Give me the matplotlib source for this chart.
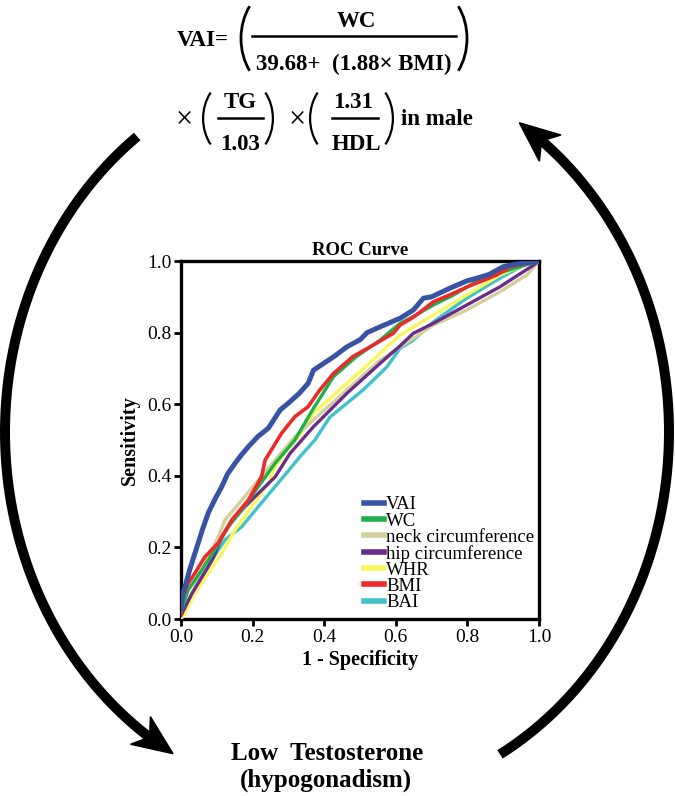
import numpy as np
import matplotlib
matplotlib.use("Agg")
import matplotlib.pyplot as plt
from matplotlib.patches import Arc, Polygon

plt.rcParams['font.family'] = ['Liberation Serif', 'DejaVu Serif']

# ROC data
names = ["VAI", "WC", "neck circumference", "hip circumference", "WHR", "BMI", "BAI"]
colors = ["#3953a4", "#1db14b", "#d4cf9b", "#6b2c8e", "#fbf75a", "#ed2a2a", "#3fc2c9"]

vai_fpr = [0, 0.005, 0.011, 0.025, 0.039, 0.06, 0.076, 0.095, 0.114, 0.13, 0.151, 0.17, 0.188, 0.215,
           0.244, 0.277, 0.3, 0.33, 0.355, 0.37, 0.4, 0.43, 0.463, 0.5, 0.52, 0.556, 0.6, 0.612, 0.649,
           0.677, 0.7, 0.751, 0.8, 0.826, 0.86, 0.9, 0.928, 1.0]
vai_tpr = [0.03, 0.07, 0.09, 0.14, 0.184, 0.25, 0.296, 0.335, 0.37, 0.405, 0.435, 0.46, 0.481, 0.51,
           0.533, 0.584, 0.603, 0.63, 0.658, 0.695, 0.715, 0.735, 0.76, 0.78, 0.8, 0.816, 0.835, 0.84, 0.863,
           0.896, 0.9, 0.924, 0.945, 0.952, 0.962, 0.984, 0.99, 1.0]

wc_fpr = [0, 0.02, 0.058, 0.095, 0.132, 0.17, 0.216, 0.263, 0.318, 0.365, 0.426, 0.49, 0.556, 0.612,
          0.649, 0.705, 0.761, 0.82, 0.9, 1.0]
wc_tpr = [0.02, 0.081, 0.137, 0.193, 0.258, 0.304, 0.37, 0.435, 0.5, 0.58, 0.677, 0.733, 0.779, 0.826,
          0.845, 0.877, 0.905, 0.94, 0.97, 1.0]

neck_fpr = [0, 0.039, 0.076, 0.1, 0.123, 0.17, 0.216, 0.263, 0.318, 0.37, 0.463, 0.556, 0.612, 0.705,
            0.798, 0.891, 0.966, 1.0]
neck_tpr = [0.01, 0.09, 0.174, 0.22, 0.277, 0.332, 0.388, 0.444, 0.509, 0.556, 0.64, 0.723, 0.76, 0.821,
            0.863, 0.914, 0.961, 1.0]

hip_fpr = [0, 0.03, 0.06, 0.09, 0.114, 0.151, 0.207, 0.263, 0.304, 0.37, 0.463, 0.556, 0.612, 0.649,
           0.705, 0.798, 0.891, 0.984, 1.0]
hip_tpr = [0.01, 0.07, 0.12, 0.17, 0.23, 0.286, 0.342, 0.397, 0.462, 0.537, 0.63, 0.714, 0.763, 0.798,
           0.826, 0.877, 0.928, 0.988, 1.0]

whr_fpr = [0, 0.011, 0.039, 0.076, 0.114, 0.151, 0.198, 0.244, 0.26, 0.29, 0.337, 0.37, 0.463, 0.556,
           0.612, 0.649, 0.705, 0.798, 0.891, 0.95, 1.0]
whr_tpr = [0, 0.016, 0.072, 0.128, 0.184, 0.249, 0.314, 0.379, 0.42, 0.463, 0.519, 0.575, 0.658, 0.742,
           0.793, 0.816, 0.849, 0.905, 0.961, 0.985, 1.0]

bmi_fpr = [0, 0.002, 0.02, 0.039, 0.067, 0.104, 0.142, 0.188, 0.225, 0.235, 0.281, 0.318, 0.355, 0.388,
           0.426, 0.48, 0.528, 0.593, 0.612, 0.649, 0.705, 0.75, 0.798, 0.882, 0.919, 0.95, 1.0]
bmi_tpr = [0.02, 0.053, 0.1, 0.128, 0.174, 0.212, 0.277, 0.332, 0.397, 0.444, 0.519, 0.565, 0.593, 0.64,
           0.686, 0.733, 0.76, 0.798, 0.821, 0.843, 0.886, 0.905, 0.927, 0.961, 0.984, 0.99, 1.0]

bai_fpr = [0, 0.011, 0.048, 0.086, 0.123, 0.17, 0.216, 0.263, 0.309, 0.332, 0.374, 0.416, 0.509, 0.575,
           0.612, 0.649, 0.705, 0.798, 0.891, 0.966, 1.0]
bai_tpr = [0.01, 0.034, 0.09, 0.165, 0.221, 0.258, 0.314, 0.37, 0.425, 0.453, 0.5, 0.564, 0.64, 0.704,
           0.756, 0.779, 0.83, 0.896, 0.952, 0.993, 1.0]

fprs = [vai_fpr, wc_fpr, neck_fpr, hip_fpr, whr_fpr, bmi_fpr, bai_fpr]
tprs = [vai_tpr, wc_tpr, neck_tpr, hip_tpr, whr_tpr, bmi_tpr, bai_tpr]
widths = [3.6, 2.4, 2.4, 2.4, 2.4, 2.6, 2.4]
zorders = [9, 6, 4, 5, 3, 8, 2]

W, H = 675, 796
fig = plt.figure(figsize=(W / 100, H / 100), dpi=100)

# overlay in pixel coordinates for formula, arrows and caption
ov = fig.add_axes([0, 0, 1, 1])
ov.set_xlim(0, W)
ov.set_ylim(H, 0)
ov.axis("off")

fs = 16.5
bold = dict(fontsize=fs, fontweight="bold", color="black")

ov.text(229, 46, "VAI=", ha="right", va="baseline", **bold)
ov.text(356, 27, "WC", ha="center", va="baseline", **bold)
ov.text(354, 70, "39.68+  (1.88× BMI)", ha="center", va="baseline", **bold)
ov.plot([252, 456], [36, 36], color="black", lw=1.8)


def paren(cx, cy, w, h, left, lw=1.6):
    if left:
        a = Arc((cx, cy), w, h, theta1=135, theta2=225, lw=lw, color="black")
    else:
        a = Arc((cx, cy), w, h, theta1=-45, theta2=45, lw=lw, color="black")
    ov.add_patch(a)


paren(282, 38.5, 82, 105, True, 2.0)
paren(426, 38.5, 82, 105, False, 2.0)

ov.text(184, 127, "×", ha="center", va="baseline", fontsize=22, color="black")
paren(236.6, 118.5, 67, 82, True)
ov.text(240, 108, "TG", ha="center", va="baseline", **bold)
ov.plot([218, 263], [118, 118], color="black", lw=1.8)
ov.text(240, 150, "1.03", ha="center", va="baseline", **bold)
paren(239.4, 118.5, 67, 82, False)

ov.text(297, 127, "×", ha="center", va="baseline", fontsize=22, color="black")
paren(343.6, 118.5, 67, 82, True)
ov.text(353, 108, "1.31", ha="center", va="baseline", **bold)
ov.plot([332, 378], [118, 118], color="black", lw=1.8)
ov.text(356, 150, "HDL", ha="center", va="baseline", **bold)
paren(359.4, 118.5, 67, 82, False)
ov.text(401, 125, "in male", ha="left", va="baseline", **bold)

ov.text(327, 760, "Low  Testosterone", ha="center", va="baseline", fontsize=18, fontweight="bold")
ov.text(326, 787, "(hypogonadism)", ha="center", va="baseline", fontsize=18, fontweight="bold")

# curved arrows along an ellipse round the chart
cx, cy, ra, rb = 337, 432, 332, 370


def curved_arrow(t0, t1, head):
    t = np.radians(np.linspace(t0, t1, 400))
    px = cx + ra * np.cos(t)
    py = cy + rb * np.sin(t)
    tip = np.array([px[-1], py[-1]])
    dist = np.hypot(px - tip[0], py - tip[1])
    shaft = dist > 26
    ov.plot(px[shaft], py[shaft], color="black", lw=7.2, solid_capstyle="butt")
    k = np.argmin(np.abs(dist - 38))
    d = tip - np.array([px[k], py[k]])
    d = d / np.hypot(*d)
    n = np.array([-d[1], d[0]])
    L, hw = head
    pts = [tip, tip - L * d + hw * n, tip - 0.72 * L * d, tip - L * d - hw * n]
    ov.add_patch(Polygon(pts, closed=True, color="black"))


curved_arrow(233.0, 119.6, (40, 17))
curved_arrow(60.6, -56.7, (40, 17))

# ROC chart
ax = fig.add_axes([181 / W, 1 - 619 / H, 358 / W, 358 / H])
for name, col, f, tp, lw, z in zip(names, colors, fprs, tprs, widths, zorders):
    ax.plot(f, tp, color=col, lw=lw, label=name, zorder=z, solid_joinstyle="round")

ax.set_xlim(0, 1)
ax.set_ylim(0, 1)
ticks = [0.0, 0.2, 0.4, 0.6, 0.8, 1.0]
ax.set_xticks(ticks)
ax.set_yticks(ticks)
ax.set_xticklabels([f"{v:.1f}" for v in ticks])
ax.set_yticklabels([f"{v:.1f}" for v in ticks])
ax.tick_params(direction="out", length=5, width=2, labelsize=14, pad=2)
for sp in ax.spines.values():
    sp.set_linewidth(2.4)

ax.set_title("ROC Curve", fontsize=13.5, fontweight="bold", pad=4)
ax.set_xlabel("1 - Specificity", fontsize=14.5, fontweight="bold", labelpad=3)
ax.set_ylabel("Sensitivity", fontsize=14.5, fontweight="bold", labelpad=5)

leg = ax.legend(loc="lower left", bbox_to_anchor=(0.475, -0.015), frameon=False, fontsize=13.5,
                handlelength=1.05, handletextpad=0.12, labelspacing=-0.05, borderpad=0.2)
for h in leg.get_lines():
    h.set_linewidth(4)

fig.savefig("out.png", dpi=100)
